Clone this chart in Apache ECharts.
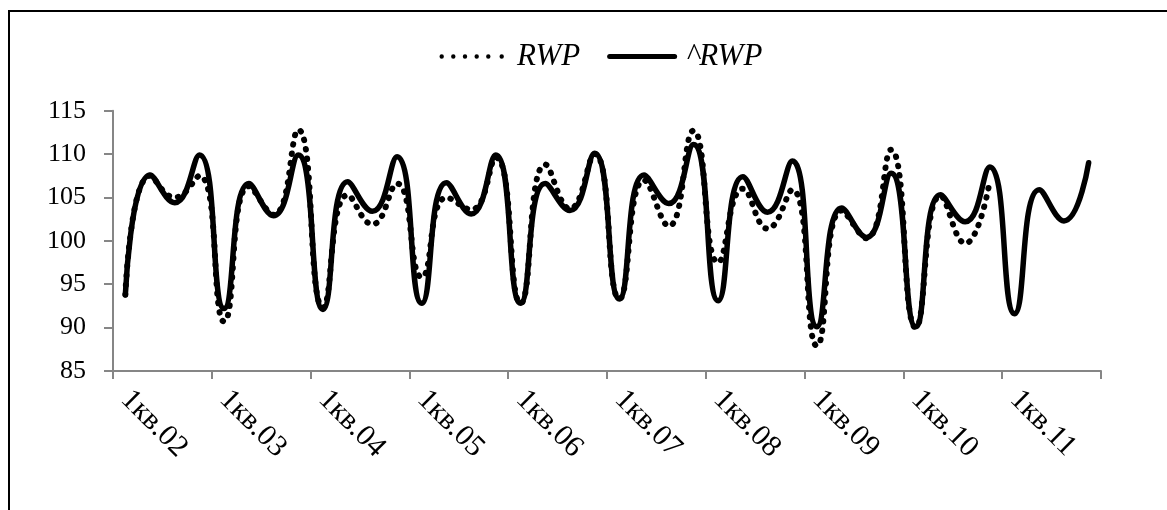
<!DOCTYPE html>
<html>
<head>
<meta charset="utf-8">
<script src="https://cdn.jsdelivr.net/npm/echarts@6/dist/echarts.min.js"></script>
<style>
html,body{margin:0;padding:0;background:#fff;}
#c{width:1167px;height:510px;}
</style>
</head>
<body>
<div id="c"></div>
<script>
// 40 quarters: 1кв.02 ... 4кв.11
const years = ['02','03','04','05','06','07','08','09','10','11'];
const quarters = ['1кв.','2кв.','3кв.','4кв.'];
const categories = [];
years.forEach(y => quarters.forEach(q => categories.push(q + y)));

const seriesNames = ['RWP', '^RWP'];

// RWP (actual), ends at 4кв.10
const rwp = [
  93.8, 107.5, 105.0, 107.5,
  90.7, 106.3, 103.0, 112.8,
  92.3, 105.3, 101.9, 106.6,
  95.8, 105.0, 103.6, 109.6,
  92.8, 108.8, 103.7, 110.0,
  93.3, 107.0, 101.7, 112.7,
  97.5, 106.0, 101.4, 105.9,
  87.9, 103.5, 100.3, 110.5,
  90.0, 105.2, 99.7, 106.9
];

// ^RWP (model), through 4кв.11
const rwpHat = [
  93.8, 107.6, 104.4, 109.9,
  92.2, 106.6, 102.9, 109.9,
  92.1, 106.8, 103.4, 109.7,
  92.8, 106.7, 103.1, 109.9,
  92.8, 106.6, 103.5, 110.1,
  93.3, 107.6, 104.3, 111.1,
  93.1, 107.4, 103.3, 109.2,
  90.1, 103.8, 100.4, 107.8,
  90.1, 105.3, 102.2, 108.5,
  91.6, 105.9, 102.3, 109.0
];

const yMin = 85, yMax = 115, yStep = 5;

// legend icons (70 x 5 box)
function circ(cx, cy, r) {
  return 'M' + (cx - r) + ' ' + cy + ' A' + r + ' ' + r + ' 0 1 0 ' + (cx + r) + ' ' + cy +
         ' A' + r + ' ' + r + ' 0 1 0 ' + (cx - r) + ' ' + cy + ' Z ';
}
let dotIcon = 'path://M0 0 L0.01 0 L0.01 0.01 Z M70 5 L69.99 5 L69.99 4.99 Z ';
[3.7, 15.3, 27, 38.7, 50.3, 63.7].forEach(x => { dotIcon += circ(x, 2.5, 2.2); });
const solidIcon = 'path://M2.5 0 L67.5 0 A2.5 2.5 0 0 1 67.5 5 L2.5 5 A2.5 2.5 0 0 1 2.5 0 Z';

const font = '"Liberation Serif", "Times New Roman", serif';
const chart = echarts.init(document.getElementById('c'));
chart.setOption({
  animation: false,
  backgroundColor: '#fff',
  graphic: [{
    type: 'rect',
    silent: true,
    shape: {x: 9, y: 11, width: 1300, height: 700},
    style: {fill: 'none', stroke: '#000', lineWidth: 2}
  }],
  legend: {
    data: [
      {name: seriesNames[0], icon: dotIcon},
      {name: seriesNames[1], icon: solidIcon}
    ],
    left: 433,
    top: 36,
    itemWidth: 70,
    itemHeight: 5,
    itemGap: 27,
    itemStyle: {color: '#000', borderWidth: 0},
    textStyle: {fontFamily: font, fontStyle: 'italic', fontSize: 31, color: '#000', padding: [0,0,0,4]}
  },
  grid: {left: 113, right: 66, top: 110.7, bottom: 139, containLabel: false},
  xAxis: {
    type: 'category',
    data: categories,
    boundaryGap: true,
    axisLine: {lineStyle: {color: '#868686', width: 2}},
    axisTick: {show: true, interval: 3, length: 8, lineStyle: {color: '#868686', width: 2}},
    axisLabel: {interval: 3, rotate: -45, margin: 24, fontFamily: font, fontSize: 30, color: '#000'},
    splitLine: {show: false}
  },
  yAxis: {
    type: 'value',
    min: yMin, max: yMax, interval: yStep,
    axisLine: {show: true, lineStyle: {color: '#868686', width: 2}},
    axisTick: {show: true, length: 9, lineStyle: {color: '#868686', width: 2}},
    axisLabel: {margin: 27, fontFamily: font, fontSize: 26, color: '#000'},
    splitLine: {show: false}
  },
  series: [
    {
      name: seriesNames[0],
      type: 'line',
      data: rwp,
      smooth: 0.5,
      symbol: 'none',
      lineStyle: {color: '#000', width: 6, type: [0.5, 9], cap: 'round'},
      itemStyle: {color: '#000'}
    },
    {
      name: seriesNames[1],
      type: 'line',
      data: rwpHat,
      smooth: 0.5,
      symbol: 'none',
      lineStyle: {color: '#000', width: 5.5, cap: 'round'},
      itemStyle: {color: '#000'}
    }
  ]
});
</script>
</body>
</html>
